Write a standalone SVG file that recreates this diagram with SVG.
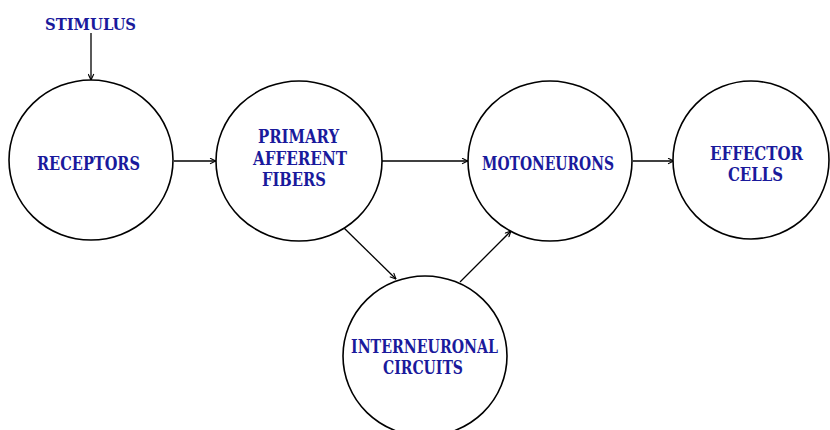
<svg xmlns="http://www.w3.org/2000/svg" width="830" height="430" viewBox="0 0 830 430">
<defs>
<style>
.node{fill:#fff;stroke:#000;stroke-width:1.6}
.lbl{font-family:"DejaVu Serif Condensed","DejaVu Serif",serif;font-weight:bold;font-size:18px;fill:#1a1a9c;text-anchor:middle}
.edge{stroke:#000;stroke-width:1.3;fill:none;marker-end:url(#arr)}
</style>
<marker id="arr" viewBox="0 0 10 10" refX="9.5" refY="5" markerWidth="7" markerHeight="7" markerUnits="userSpaceOnUse" orient="auto">
<path d="M1,1 L9.5,5 L1,9" fill="none" stroke="#000" stroke-width="1.6"/>
</marker>
</defs>
<rect width="830" height="430" fill="#fff"/>
<g id="connectors">
<line class="edge" x1="91" y1="33" x2="91" y2="80"/>
<line class="edge" x1="174" y1="161" x2="216" y2="161"/>
<line class="edge" x1="382" y1="161" x2="468" y2="161"/>
<line class="edge" x1="633" y1="161" x2="674" y2="161"/>
<line class="edge" x1="344" y1="228" x2="396" y2="279"/>
<line class="edge" x1="460" y1="282" x2="511" y2="231"/>
</g>
<g id="stimulus">
<text class="lbl" x="90.5" y="30" textLength="91" lengthAdjust="spacingAndGlyphs" style="font-size:16px">STIMULUS</text>
</g>
<g id="receptors">
<ellipse class="node" cx="91" cy="160" rx="82" ry="80"/>
<text class="lbl" x="88.5" y="170" textLength="103" lengthAdjust="spacingAndGlyphs">RECEPTORS</text>
</g>
<g id="primary">
<ellipse class="node" cx="299" cy="161" rx="83" ry="80"/>
<text class="lbl" x="298.5" y="143" textLength="81" lengthAdjust="spacingAndGlyphs">PRIMARY</text>
<text class="lbl" x="300" y="165" textLength="94" lengthAdjust="spacingAndGlyphs">AFFERENT</text>
<text class="lbl" x="294" y="186" textLength="64" lengthAdjust="spacingAndGlyphs">FIBERS</text>
</g>
<g id="motoneurons">
<ellipse class="node" cx="550" cy="161" rx="82" ry="80"/>
<text class="lbl" x="548" y="170" textLength="132" lengthAdjust="spacingAndGlyphs">MOTONEURONS</text>
</g>
<g id="effector">
<ellipse class="node" cx="751" cy="160" rx="78" ry="79"/>
<text class="lbl" x="756.5" y="160" textLength="93" lengthAdjust="spacingAndGlyphs">EFFECTOR</text>
<text class="lbl" x="755.5" y="181" textLength="55" lengthAdjust="spacingAndGlyphs">CELLS</text>
</g>
<g id="interneuronal">
<ellipse class="node" cx="425" cy="356" rx="82" ry="80"/>
<text class="lbl" x="424.5" y="353" textLength="147" lengthAdjust="spacingAndGlyphs">INTERNEURONAL</text>
<text class="lbl" x="423" y="374" textLength="80" lengthAdjust="spacingAndGlyphs">CIRCUITS</text>
</g>
</svg>
